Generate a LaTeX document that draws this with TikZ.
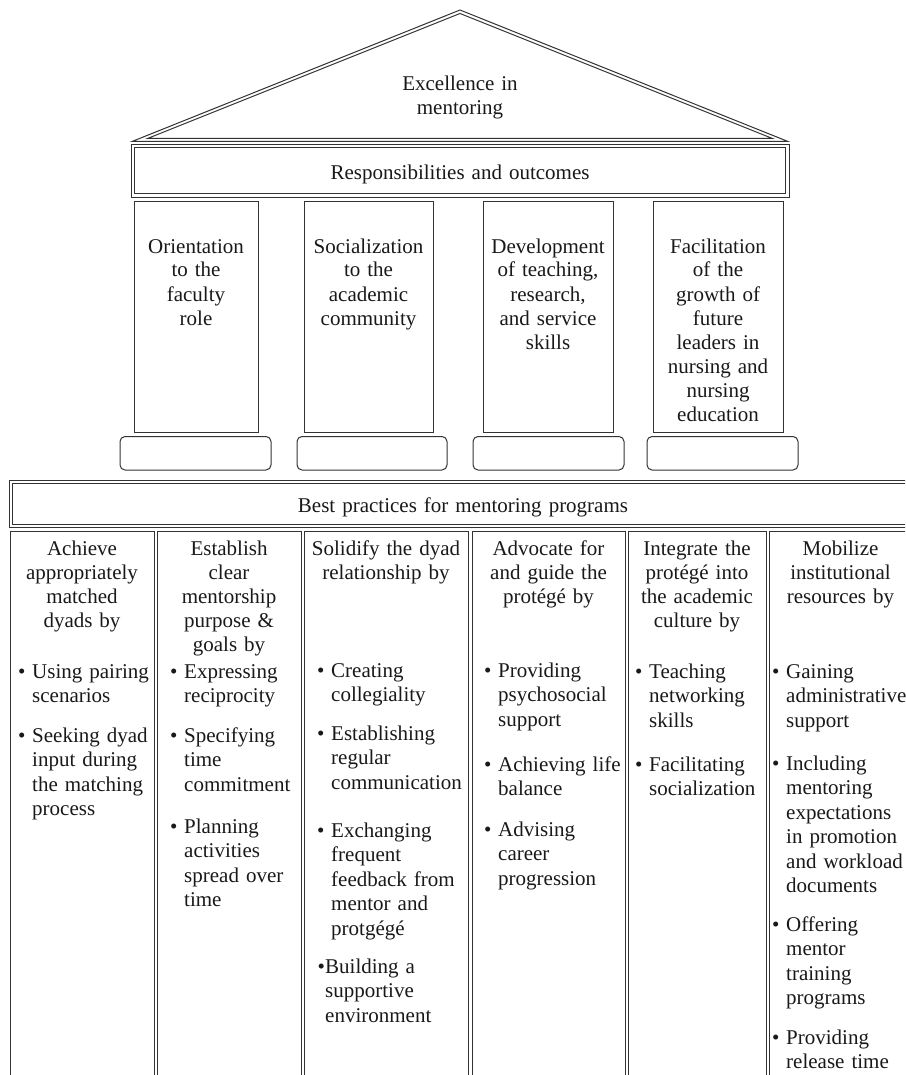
\documentclass[tikz,border=0pt]{standalone}
\usepackage{fontspec}
\setmainfont{Liberation Serif}
\newcommand\fsA{\fontsize{21}{24.5}\selectfont}
\newcommand\fsH{\fontsize{21}{24}\selectfont}
\newcommand\fsP{\fontsize{21}{24}\selectfont}
\newcommand\bitem[5]{%
  \node[dotnode] (#1d) at (#2-14,#3) {\textbullet};
  \node[bultext] (#1) at (#2,#3) {#5};}
\begin{document}
\begin{tikzpicture}[x=1pt,y=-1pt,
  ln/.style={draw=black!80, line width=1pt},
  lbl/.style={inner sep=0pt, text=black!90},
  ctr/.style={lbl, align=center, anchor=base, text width=#1},
  bultext/.style={lbl, align=left, anchor=base west, text width=200pt, font=\fsA},
  dotnode/.style={lbl, anchor=base west, font=\fsA}]
\useasboundingbox (0,0) rectangle (905,1075);
\fill[white] (0,0) rectangle (905,1075);
\clip (0,0) rectangle (905,1075);
% roof
\draw[ln] (132,141.5) -- (460,10) -- (788,141.5) -- cycle;
\draw[ln] (147.5,138.5) -- (460,13.5) -- (772.5,138.5) -- cycle;
% responsibilities frame
\draw[ln] (131,144.5) rectangle (789,197.5);
\draw[ln] (134.5,148) rectangle (785.5,194);
% pillars
\draw[ln] (134,202) rectangle (258,432);
\draw[ln] (304,202) rectangle (433,432);
\draw[ln] (483,202) rectangle (613,432);
\draw[ln] (653,202) rectangle (783,432);
% bases
\draw[ln, rounded corners=5pt] (120,436.5) rectangle (271,470);
\draw[ln, rounded corners=5pt] (297,436.5) rectangle (447,470);
\draw[ln, rounded corners=5pt] (473,436.5) rectangle (624,470);
\draw[ln, rounded corners=5pt] (647,436.5) rectangle (798,470);
% best practices frame
\draw[ln] (9,480) rectangle (916,527.5);
\draw[ln] (12.5,483.5) rectangle (912.5,524);
% columns
\draw[ln] (10,531) rectangle (154,1090);
\draw[ln] (157,531) rectangle (301,1090);
\draw[ln] (304,531) rectangle (468,1090);
\draw[ln] (472,531) rectangle (625,1090);
\draw[ln] (628,531) rectangle (766,1090);
\draw[ln] (769,531) rectangle (912,1090);
% top texts
\node[ctr=220pt, font=\fsH] (roof) at (460,91) {Excellence in\\mentoring};
\node[ctr=620pt, font=\fsA] (resp) at (460,180) {Responsibilities and outcomes};
\node[ctr=122pt, font=\fsP] (p1) at (196,253) {Orientation\\to the\\faculty\\role};
\node[ctr=126pt, font=\fsP] (p2) at (368.5,253) {Socialization\\to the\\academic\\community};
\node[ctr=128pt, font=\fsP] (p3) at (548,253) {Development\\of teaching,\\research,\\and service\\skills};
\node[ctr=128pt, font=\fsP] (p4) at (718,253) {Facilitation\\of the\\growth of\\future\\leaders in\\nursing and\\nursing\\education};
\node[ctr=700pt, font=\fsA] (best) at (463,512) {Best practices for mentoring programs};
% column headers
\node[ctr=142pt, font=\fsH] (h1) at (82,555) {Achieve\\appropriately\\matched\\dyads by};
\node[ctr=142pt, font=\fsH] (h2) at (229,555) {Establish\\clear\\mentorship\\purpose \&\\goals by};
\node[ctr=162pt, font=\fsH] (h3) at (386,555) {Solidify the dyad\\relationship by};
\node[ctr=150pt, font=\fsH] (h4) at (548.5,555) {Advocate for\\and guide the\\protégé by};
\node[ctr=136pt, font=\fsH] (h5) at (697,555) {Integrate the\\protégé into\\the academic\\culture by};
\node[ctr=140pt, font=\fsH] (h6) at (840.5,555) {Mobilize\\institutional\\resources by};
% column 1
\bitem{a1}{32}{678}{}{Using pairing\\scenarios}
\bitem{a2}{32}{742}{}{Seeking dyad\\input during\\the matching\\process}
% column 2
\bitem{b1}{184}{678}{}{Expressing\\reciprocity}
\bitem{b2}{184}{742}{}{Specifying\\time\\commitment}
\bitem{b3}{184}{833}{}{Planning\\activities\\spread over\\time}
% column 3
\bitem{c1}{331}{677}{}{Creating\\collegiality}
\bitem{c2}{331}{740}{}{Establishing\\regular\\communication}
\bitem{c3}{331}{837}{}{Exchanging\\frequent\\feedback from\\mentor and\\protgégé}
\node[dotnode] (c4d) at (317.5,973) {\textbullet};
\node[bultext] (c4) at (325,973) {Building a\\supportive\\environment};
% column 4
\bitem{d1}{498}{677}{}{Providing\\psychosocial\\support}
\bitem{d2}{498}{771}{}{Achieving life\\balance}
\bitem{d3}{498}{836}{}{Advising\\career\\progression}
% column 5
\bitem{e1}{649}{678}{}{Teaching\\networking\\skills}
\bitem{e2}{649}{771}{}{Facilitating\\socialization}
% column 6
\bitem{f1}{786}{678}{}{Gaining\\administrative\\support}
\bitem{f2}{786}{770}{}{Including\\mentoring\\expectations\\in promotion\\and workload\\documents}
\bitem{f3}{786}{931}{}{Offering\\mentor\\training\\programs}
\bitem{f4}{786}{1044}{}{Providing\\release time}
\end{tikzpicture}
\end{document}
